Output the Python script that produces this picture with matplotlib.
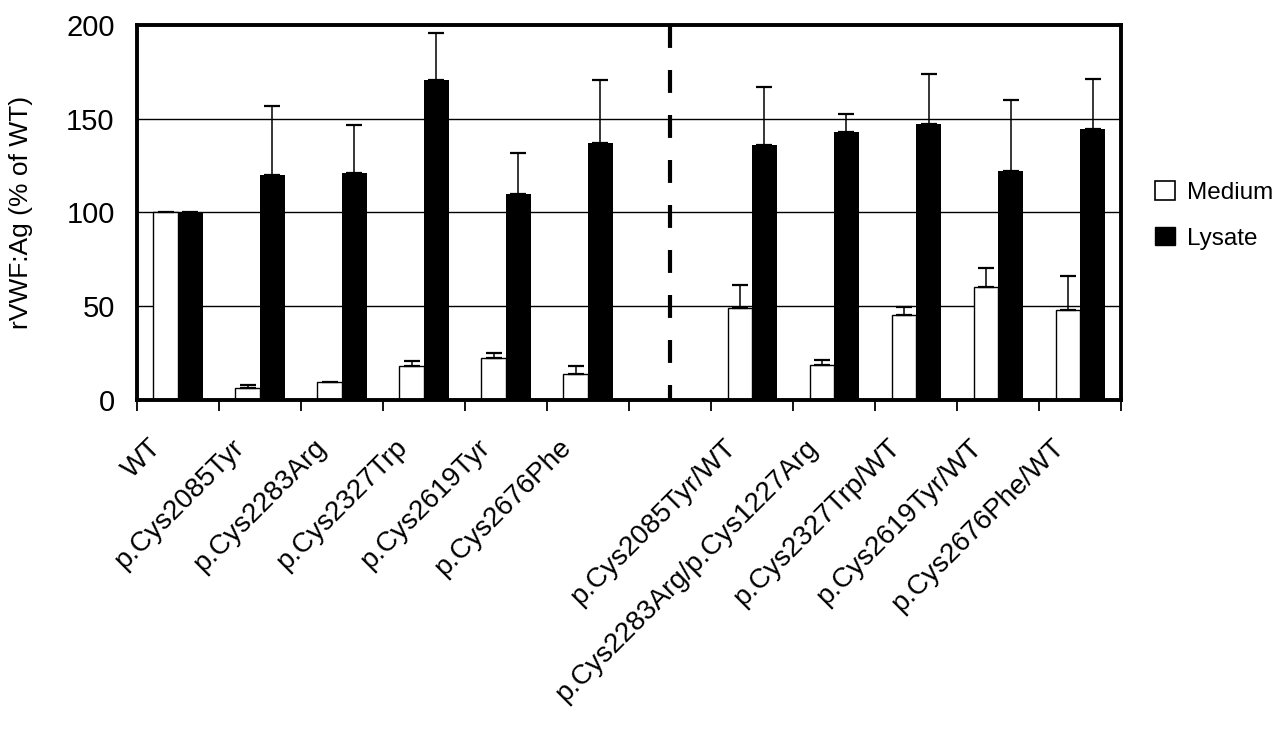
import numpy as np
import matplotlib
matplotlib.use("Agg")
import matplotlib.pyplot as plt
import matplotlib.transforms as mtransforms
from matplotlib.patches import Patch

# values (% of WT)
labels = ['WT', 'p.Cys2085Tyr', 'p.Cys2283Arg', 'p.Cys2327Trp', 'p.Cys2619Tyr',
          'p.Cys2676Phe', 'p.Cys2085Tyr/WT', 'p.Cys2283Arg/p.Cys1227Arg',
          'p.Cys2327Trp/WT', 'p.Cys2619Tyr/WT', 'p.Cys2676Phe/WT']
medium = [100, 6.4, 9.8, 18.2, 22.6, 14.1, 49.0, 18.8, 45.5, 60.0, 47.7]
medium_err = [0, 1.4, 0, 2.7, 2.5, 4.1, 12.3, 2.7, 3.8, 10.5, 18.3]
lysate = [100, 120.1, 121.0, 170.6, 110.0, 136.9, 136.0, 143.0, 147.2, 122.0, 144.5]
lysate_err = [0, 36.4, 25.7, 24.9, 21.5, 33.5, 30.7, 9.5, 26.6, 38.0, 26.5]

plt.rcParams['font.family'] = ['Liberation Sans', 'DejaVu Sans']

# one empty slot between the homozygous and heterozygous groups
pos = np.array([0, 1, 2, 3, 4, 5, 7, 8, 9, 10, 11])
w = 0.3

fig = plt.figure(figsize=(12.8, 7.4), dpi=100)
ax = fig.add_axes([0.107, 0.4595, 0.769, 0.507])

for y in (50, 100, 150):
    ax.axhline(y, color='black', lw=1.0, zorder=1)

ekw = dict(elinewidth=1.1, capthick=1.6, ecolor='black')
med_err = np.array(medium_err, dtype=float)
med_err[med_err == 0] = np.nan
lys_err = np.array(lysate_err, dtype=float)
lys_err[lys_err == 0] = np.nan
ax.bar(pos - w / 2, medium, w, color='white', edgecolor='black', linewidth=1.0, zorder=2)
ax.errorbar(pos - w / 2, medium, yerr=[np.zeros(len(pos)), med_err], fmt='none',
            capsize=5.5, zorder=3, **ekw)
ax.bar(pos + w / 2, lysate, w, color='black', edgecolor='black', linewidth=0, zorder=2)
ax.errorbar(pos + w / 2, lysate, yerr=[np.zeros(len(pos)), lys_err], fmt='none',
            capsize=5.5, zorder=3, **ekw)

# separator between the two groups
ax.plot([6, 6], [200, 0], color='black', lw=3, linestyle=(0, (5.5, 5.3)), zorder=4,
        dash_capstyle='butt')

ax.set_xlim(-0.5, 11.5)
ax.set_ylim(0, 200)
ax.set_yticks([0, 50, 100, 150, 200])
ax.tick_params(axis='y', length=0, pad=16, labelsize=21)
ax.set_xticks(pos)
ax.set_xticklabels(labels, rotation=45, ha='right', fontsize=20)
ax.tick_params(axis='x', which='major', length=0, pad=25)
shift = mtransforms.ScaledTranslation(-8 / 72, 0, fig.dpi_scale_trans)
for t in ax.get_xticklabels():
    t.set_transform(t.get_transform() + shift)
ax.set_xticks(np.arange(-0.5, 12, 1), minor=True)
ax.tick_params(axis='x', which='minor', length=8, width=1.3, direction='out')
for s in ax.spines.values():
    s.set_linewidth(2.8)
    s.set_zorder(5)

ax.set_ylabel('rVWF:Ag (% of WT)', fontsize=19, labelpad=24)

handles = [Patch(facecolor='white', edgecolor='black', linewidth=1.2),
           Patch(facecolor='black', edgecolor='black')]
fig.legend(handles, ['Medium', 'Lysate'], loc='center left',
           bbox_to_anchor=(0.895, 0.709), frameon=False, fontsize=17.5,
           handlelength=0.8, handleheight=0.8, handletextpad=0.5,
           labelspacing=0.95, borderaxespad=0)

fig.savefig('out.png', dpi=100)
